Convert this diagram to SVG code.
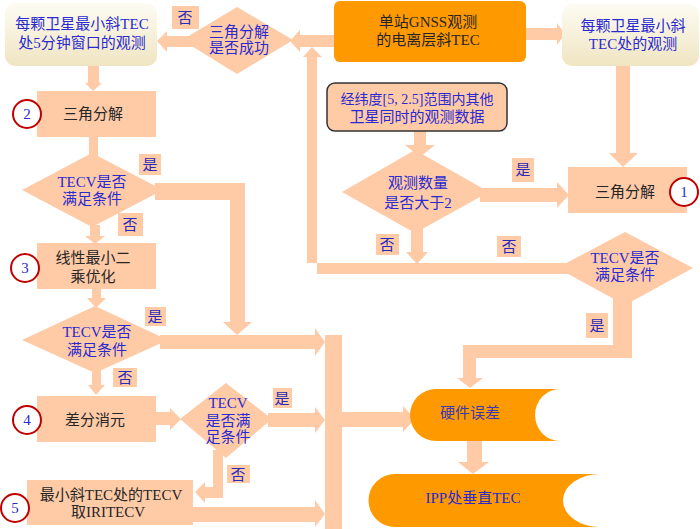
<svg xmlns="http://www.w3.org/2000/svg" width="700" height="529" viewBox="0 0 700 529">
<defs>
<linearGradient id="cream" x1="0" y1="0" x2="0" y2="1">
<stop offset="0" stop-color="#fdfcf3"/>
<stop offset="1" stop-color="#f0e5c2"/>
</linearGradient>
<style>
text{font-family:"Liberation Serif","Noto Sans CJK SC",serif;font-size:15px;text-anchor:middle}
.pc{fill:#ffcaa6}
.blue{fill:#2a2ad0}
.dark{fill:#262626}
.lbl rect{fill:#ffcaa6}
.lbl text{fill:#2a2ab8}
.num circle{fill:#ffffff;stroke:#c00000;stroke-width:2}
.num text{fill:#2a2ad0}
.or{fill:#ff9900}
</style>
</defs>
<rect width="700" height="529" fill="#ffffff"/>
<g id="connectors" class="pc">
<polygon points="200,36 167,36 167,31 157,41 167,52 167,47 200,47"/>
<polygon points="334,35 300,35 300,30 290,41 300,52 300,47 334,47"/>
<polygon points="317,274 317,57 322,57 312,47 303,57 307,57 307,263 570,263 570,274"/>
<polygon points="526,28 557,28 557,23 565,34 557,45 557,40 526,40"/>
<polygon points="616,66 630,66 630,153 638,153 623,167 609,153 616,153"/>
<polygon points="414,131 426,131 426,145 435,145 420,157 405,145 414,145"/>
<polygon points="480,188 557,188 557,182 569,195 557,208 557,202 480,202"/>
<polygon points="411,225 423,225 423,252 428,252 417,264 406,252 411,252"/>
<polygon points="613,295 632,295 632,358 476,358 476,378 483,378 470,388 457,378 463,378 463,345 613,345"/>
<rect x="325" y="335" width="17" height="194"/>
<polygon points="342,412 403,412 403,406 415,419 403,432 403,427 342,427"/>
<polygon points="467,441 482,441 482,462 489,462 473,474 458,462 467,462"/>
<polygon points="88,66 99,66 99,83 102,83 93,91 85,83 88,83"/>
<rect x="89" y="137" width="9" height="20"/>
<polygon points="155,183 245,183 245,322 252,322 237,335 223,322 230,322 230,200 155,200"/>
<polygon points="90,225 100,225 100,236 105,236 95,244 85,236 90,236"/>
<polygon points="92,289 101,289 101,298 106,298 96,308 87,298 92,298"/>
<polygon points="160,335 315,335 315,328 325,342 315,356 315,349 160,349"/>
<polygon points="92,370 101,370 101,385 105,385 96,395 88,385 92,385"/>
<polygon points="156,412 170,412 170,408 181,419 170,430 170,425 156,425"/>
<polygon points="268,413 315,413 315,407 325,420 315,433 315,427 268,427"/>
<polygon points="213,450 223,450 223,498 205,498 205,503 195,492 205,482 205,487 213,487"/>
<polygon points="193,507 315,507 315,500 325,514 315,527 315,522 193,522"/>
</g>
<g id="obs5min">
<rect x="5" y="3" width="152" height="63" rx="10" fill="url(#cream)"/>
<text x="82" y="29" class="blue">每颗卫星最小斜TEC</text>
<text x="82" y="48" class="blue">处5分钟窗口的观测</text>
</g>
<g id="dec-success">
<polygon points="182,40 237,7 293,40 237,74" class="pc"/>
<text x="239" y="37" class="blue">三角分解</text>
<text x="239" y="53" class="blue">是否成功</text>
</g>
<g id="gnss">
<rect x="334" y="1" width="192" height="61" rx="6" class="or"/>
<text x="428" y="27" class="dark">单站GNSS观测</text>
<text x="428" y="45" class="dark">的电离层斜TEC</text>
</g>
<g id="obsmin">
<rect x="562" y="4" width="137" height="62" rx="10" fill="url(#cream)"/>
<text x="633" y="31" class="blue">每颗卫星最小斜</text>
<text x="633" y="49" class="blue">TEC处的观测</text>
</g>
<g id="other">
<rect x="327" y="83" width="180" height="48" rx="8" class="pc" stroke="#333333" stroke-width="1.5"/>
<text x="417" y="104" class="blue" style="font-size:14px">经纬度[5, 2.5]范围内其他</text>
<text x="417" y="122" class="blue">卫星同时的观测数据</text>
</g>
<g id="dec-count">
<polygon points="342,192 415,150 489,192 415,233" class="pc"/>
<text x="418" y="188" class="blue">观测数量</text>
<text x="418" y="208" class="blue">是否大于2</text>
</g>
<g id="tri1">
<rect x="568" y="167" width="119" height="46" class="pc"/>
<text x="625" y="197" class="dark">三角分解</text>
<g class="num"><circle cx="684" cy="192" r="14"/><text x="684" y="197">1</text></g>
</g>
<g id="dec-r">
<polygon points="557,268 625,232 693,268 625,305" class="pc"/>
<text x="625" y="263" class="blue">TECV是否</text>
<text x="625" y="280" class="blue">满足条件</text>
</g>
<g id="hw">
<path d="M436,389 L560,389 A25,26 0 0 0 560,441 L436,441 A26,26 0 0 1 436,389 Z" class="or"/>
<text x="470" y="418" fill="#3a3ab0">硬件误差</text>
</g>
<g id="ipp">
<path d="M395,474 L600,474 A37,26.5 0 0 0 600,527 L395,527 A26.5,26.5 0 0 1 395,474 Z" class="or"/>
<text x="473" y="503" class="blue">IPP处垂直TEC</text>
</g>
<g id="tri2">
<rect x="37" y="91" width="119" height="46" class="pc"/>
<text x="93" y="119" class="dark">三角分解</text>
<g class="num"><circle cx="27" cy="114" r="14"/><text x="27" y="119">2</text></g>
</g>
<g id="dec1">
<polygon points="22,190 92,153 163,190 92,227" class="pc"/>
<text x="92" y="187" class="blue">TECV是否</text>
<text x="92" y="204" class="blue">满足条件</text>
</g>
<g id="lsq">
<rect x="37" y="243" width="119" height="46" class="pc"/>
<text x="93" y="263" class="dark">线性最小二</text>
<text x="93" y="282" class="dark">乘优化</text>
<g class="num"><circle cx="25" cy="268" r="14"/><text x="25" y="273">3</text></g>
</g>
<g id="dec2">
<polygon points="22,340 95,306 168,340 95,373" class="pc"/>
<text x="97" y="337" class="blue">TECV是否</text>
<text x="97" y="355" class="blue">满足条件</text>
</g>
<g id="diff">
<rect x="37" y="396" width="119" height="46" class="pc"/>
<text x="95" y="425" class="dark">差分消元</text>
<g class="num"><circle cx="27" cy="420" r="14"/><text x="27" y="425">4</text></g>
</g>
<g id="dec3">
<polygon points="180,419 226,383 272,419 226,458" class="pc"/>
<text x="228" y="408" class="blue">TECV</text>
<text x="228" y="426" class="blue">是否满</text>
<text x="228" y="442" class="blue">足条件</text>
</g>
<g id="iri">
<rect x="27" y="480" width="166" height="45" class="pc"/>
<text x="111" y="500" class="dark">最小斜TEC处的TECV</text>
<text x="108" y="517" class="dark">取IRITECV</text>
<g class="num"><circle cx="15" cy="508" r="14"/><text x="15" y="513">5</text></g>
</g>
<g id="labels" class="lbl">
<rect x="172" y="6" width="27" height="23"/><text x="185" y="23">否</text>
<rect x="512" y="158" width="22" height="24"/><text x="523" y="175">是</text>
<rect x="376" y="234" width="23" height="21"/><text x="387" y="250">否</text>
<rect x="497" y="236" width="24" height="21"/><text x="509" y="252">否</text>
<rect x="586" y="313" width="22" height="25"/><text x="597" y="331">是</text>
<rect x="139" y="154" width="22" height="21"/><text x="150" y="170">是</text>
<rect x="118" y="213" width="25" height="23"/><text x="130" y="230">否</text>
<rect x="145" y="307" width="21" height="19"/><text x="155" y="322">是</text>
<rect x="113" y="368" width="24" height="19"/><text x="125" y="383">否</text>
<rect x="273" y="388" width="19" height="20"/><text x="282" y="404">是</text>
<rect x="227" y="465" width="23" height="18"/><text x="238" y="480">否</text>
</g>
</svg>
